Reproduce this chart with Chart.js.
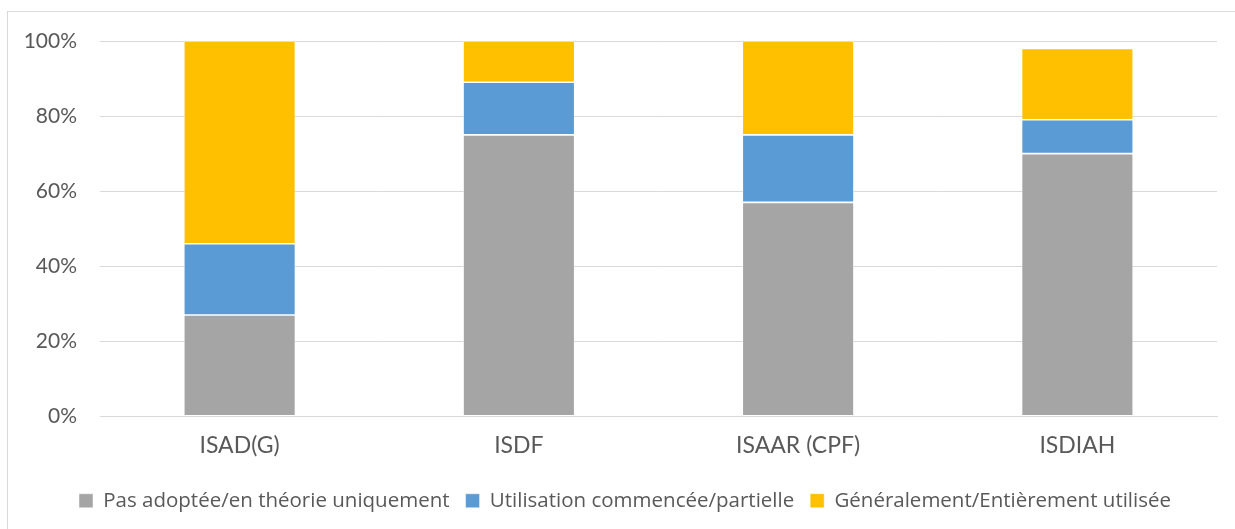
<!DOCTYPE html>
<html>
<head>
<meta charset="utf-8">
<script src="https://cdn.jsdelivr.net/npm/chart.js@4.4.1/dist/chart.umd.min.js"></script>
<style>
html,body{margin:0;padding:0;background:#fff;}
#wrap{width:1235px;height:529px;position:relative;}
</style>
</head>
<body>
<div id="wrap"><canvas id="c"></canvas></div>
<script>
const categories = ["ISAD(G)", "ISDF", "ISAAR (CPF)", "ISDIAH"];
const seriesNames = ["Pas adoptée/en théorie uniquement", "Utilisation commencée/partielle", "Généralement/Entièrement utilisée"];
const pasAdoptee = [27, 75, 57, 70];
const utilisationPartielle = [19, 14, 18, 9];
const entierementUtilisee = [54, 11, 25, 19];
const yTicks = [0, 20, 40, 60, 80, 100];
const colors = ["#A5A5A5", "#5B9BD5", "#FFC000"];

const borderPlugin = {
  id: 'outerBorder',
  beforeDraw(chart) {
    const ctx = chart.ctx;
    ctx.save();
    ctx.fillStyle = '#fff';
    ctx.fillRect(0, 0, chart.width, chart.height);
    ctx.strokeStyle = '#D9D9D9';
    ctx.lineWidth = 1;
    ctx.strokeRect(7.5, 11.5, 1400, 600);
    ctx.restore();
  },
  afterLayout(chart) {
    if (chart.legend) {
      chart.legend.left += 13;
      chart.legend.right += 13;
    }
  }
};

const datasets = [pasAdoptee, utilisationPartielle, entierementUtilisee].map((d, i) => ({
  label: seriesNames[i],
  data: d,
  backgroundColor: colors[i],
  borderColor: 'rgba(255,255,255,0.6)',
  borderWidth: 0.8,
  borderSkipped: false,
  categoryPercentage: 1,
  barPercentage: 0.4
}));

new Chart(document.getElementById('c'), {
  type: 'bar',
  data: { labels: categories, datasets },
  options: {
    responsive: true,
    maintainAspectRatio: false,
    animation: false,
    layout: { padding: { left: 7, right: 18, top: 41, bottom: 8 } },
    plugins: {
      legend: {
        position: 'bottom',
        labels: {
          boxWidth: 14, boxHeight: 14,
          padding: 16,
          color: '#595959',
          font: { family: 'Open Sans', size: 20.5 }
        }
      },
      tooltip: { enabled: false }
    },
    scales: {
      x: {
        stacked: true,
        grid: { display: false, drawTicks: false },
        border: { display: true, color: '#D9D9D9', width: 1 },
        ticks: { color: '#595959', padding: 17, font: { family: 'Lato', size: 23, lineHeight: 1.05 } }
      },
      y: {
        stacked: true,
        min: 0, max: 100,
        afterBuildTicks(scale) { scale.ticks = yTicks.map(v => ({ value: v })); },
        afterFit(scale) { scale.width = 93; },
        grid: { color: '#D9D9D9', lineWidth: 1, drawTicks: false },
        border: { display: false },
        ticks: {
          color: '#595959', padding: 23,
          font: { family: 'Lato', size: 21 },
          callback: v => v + '%'
        }
      }
    }
  },
  plugins: [borderPlugin]
});
</script>
</body>
</html>
